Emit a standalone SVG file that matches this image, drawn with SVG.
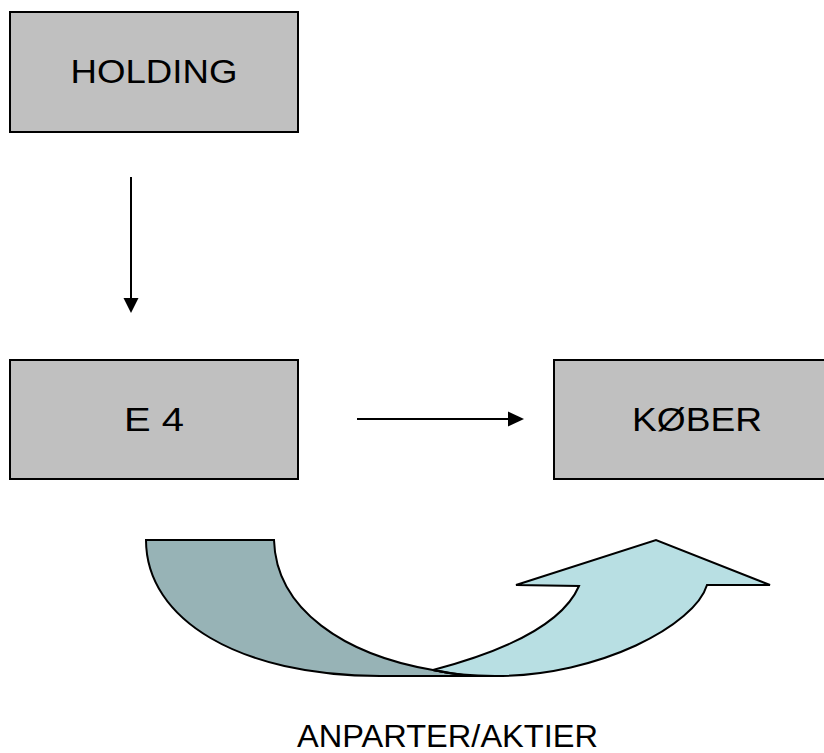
<svg xmlns="http://www.w3.org/2000/svg" width="824" height="753" viewBox="0 0 824 753">
<style>
.box{fill:#C0C0C0;stroke:#000;stroke-width:2}
.lbl{font-family:"Liberation Sans",Arial,sans-serif;font-size:33px;fill:#000;text-anchor:middle}
.conn{stroke:#000;stroke-width:2;fill:none}
.head{fill:#000}
.sh{stroke:#000;stroke-width:2;stroke-linejoin:miter}
</style>
<rect width="824" height="753" fill="#fff"/>
<g id="holding">
<rect class="box" x="10" y="12" width="288" height="120"/>
<text class="lbl" x="154" y="83" textLength="167" lengthAdjust="spacingAndGlyphs">HOLDING</text>
</g>
<g id="e4">
<rect class="box" x="10" y="360" width="288" height="119"/>
<text class="lbl" x="154" y="431" textLength="60" lengthAdjust="spacingAndGlyphs">E 4</text>
</g>
<g id="kober">
<rect class="box" x="554" y="360" width="288" height="119"/>
<text class="lbl" x="697" y="431" textLength="130" lengthAdjust="spacingAndGlyphs">KØBER</text>
</g>
<g id="connectors">
<line class="conn" x1="131" y1="177" x2="131" y2="299"/>
<polygon class="head" points="123.5,298 138.5,298 131,313"/>
<line class="conn" x1="357" y1="419" x2="509" y2="419"/>
<polygon class="head" points="508,411.5 508,426.5 524,419"/>
</g>
<g id="curved-arrow">
<path class="sh" fill="#97B3B6" d="M146,540 L274,540 C276,610 345,655 433,670 Q460,676 495,676 L380,676 C240,676 146,620 146,540 Z"/>
<path class="sh" fill="#B8DFE3" d="M433,670 C490,655 560,630 579,586 L516,585 L656,540 L770,585 L707,585 C695,625 600,676 495,676 L470,676 Q455,674 433,670 Z"/>
<path class="sh" fill="none" d="M433,670 Q460,676 495,676"/>
</g>
<g id="label">
<text class="lbl" x="447.5" y="747" font-size="32" style="font-size:32px" textLength="301" lengthAdjust="spacingAndGlyphs">ANPARTER/AKTIER</text>
</g>
</svg>
